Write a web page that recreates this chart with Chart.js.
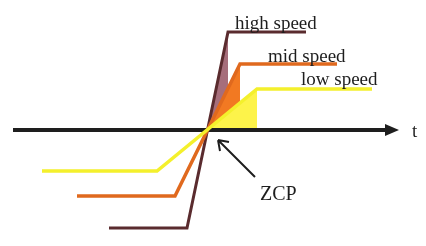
<!DOCTYPE html>
<html>
<head>
<meta charset="utf-8">
<script src="https://cdn.jsdelivr.net/npm/chart.js@4"></script>
<style>
  html, body { margin: 0; padding: 0; background: #fff; }
  #wrap { width: 426px; height: 246px; }
</style>
</head>
<body>
<div id="wrap"><canvas id="c"></canvas></div>
<script>
  // speed profiles, time t relative to zero crossing point (ZCP at 0,0)
  var highT = [-98, -20, 21, 99];
  var highV = [-98, -98, 98, 98];
  var midT = [-130, -32, 33, 130];
  var midV = [-66, -66, 66, 66];
  var lowT = [-165, -50, 50, 165];
  var lowV = [-41, -41, 41, 41];
  // time axis extent
  var axisT = [-194, 182];
  var LABELS = ["high speed", "mid speed", "low speed"];

  var INK = "#1e1e1e";
  var HIGH = "#5a2b2e", HIGH_FILL = "rgba(150,85,100,0.85)";
  var MID = "#e0691e", MID_FILL = "#f27922";
  var LOW = "#f4f02c", LOW_FILL = "#fdf34a";

  function pts(t, v) {
    return t.map(function (x, i) { return { x: x, y: v[i] }; });
  }
  // ramp triangle: ZCP -> top corner -> down to the axis
  function ramp(t, v) {
    return [{ x: 0, y: 0 }, { x: t[2], y: v[2] }, { x: t[2], y: 0 }];
  }

  function line(data, color, order, w) {
    return { data: data, showLine: true, borderColor: color, borderWidth: w || 3,
      pointRadius: 0, tension: 0, fill: false, order: order };
  }
  function area(data, color, order) {
    return { data: data, showLine: true, borderWidth: 0, borderColor: "rgba(0,0,0,0)",
      backgroundColor: color, pointRadius: 0, tension: 0, fill: { value: 0 }, order: order };
  }

  var decor = {
    id: "decor",
    afterDatasetsDraw: function (chart) {
      var ctx = chart.ctx, xs = chart.scales.x, ys = chart.scales.y;
      var px = function (t) { return xs.getPixelForValue(t); };
      var py = function (v) { return ys.getPixelForValue(v); };
      ctx.save();
      // axis arrow head
      var y0 = py(0);
      ctx.fillStyle = INK;
      ctx.beginPath();
      ctx.moveTo(px(axisT[1]) - 4, y0 - 6);
      ctx.lineTo(px(axisT[1]) + 10, y0);
      ctx.lineTo(px(axisT[1]) - 4, y0 + 6);
      ctx.closePath();
      ctx.fill();

      ctx.font = "19px 'Liberation Serif', 'DejaVu Serif', serif";
      ctx.textBaseline = "alphabetic";
      ctx.fillStyle = INK;
      ctx.fillText(LABELS[0], px(highT[2]) + 7, py(highV[2]) - 3);
      ctx.fillText(LABELS[1], px(midT[2]) + 28, py(midV[2]) - 2);
      ctx.fillText(LABELS[2], px(lowT[2]) + 44, py(lowV[2]) - 4);
      ctx.fillText("t", px(axisT[1]) + 23, y0 + 7);
      ctx.font = "20px 'Liberation Serif', 'DejaVu Serif', serif";
      ctx.fillText("ZCP", px(53), py(-70));

      // pointer to the ZCP
      var ax = px(11), ay = py(-10);
      ctx.strokeStyle = INK;
      ctx.lineWidth = 2;
      ctx.beginPath();
      ctx.moveTo(px(48), py(-47));
      ctx.lineTo(ax, ay);
      ctx.moveTo(ax, ay);
      ctx.lineTo(ax + 11, ay + 2);
      ctx.moveTo(ax, ay);
      ctx.lineTo(ax + 2, ay + 11);
      ctx.stroke();
      ctx.restore();
    }
  };

  new Chart(document.getElementById("c"), {
    type: "scatter",
    data: {
      datasets: [
        line(pts(axisT, [0, 0]), INK, 3, 4),
        line(pts(lowT, lowV), LOW, 0, 3.5),
        line(pts(midT, midV), MID, 1, 3.5),
        line(pts(highT, highV), HIGH, 2, 3),
        area(ramp(lowT, lowV), LOW_FILL, 4),
        area(ramp(midT, midV), MID_FILL, 5),
        area(ramp(highT, highV), HIGH_FILL, 6)
      ]
    },
    options: {
      responsive: true,
      maintainAspectRatio: false,
      animation: false,
      layout: { padding: 0 },
      plugins: { legend: { display: false }, tooltip: { enabled: false } },
      scales: {
        x: { type: "linear", display: false, min: -207, max: 219 },
        y: { type: "linear", display: false, min: -116, max: 130 }
      }
    },
    plugins: [decor]
  });
</script>
</body>
</html>
